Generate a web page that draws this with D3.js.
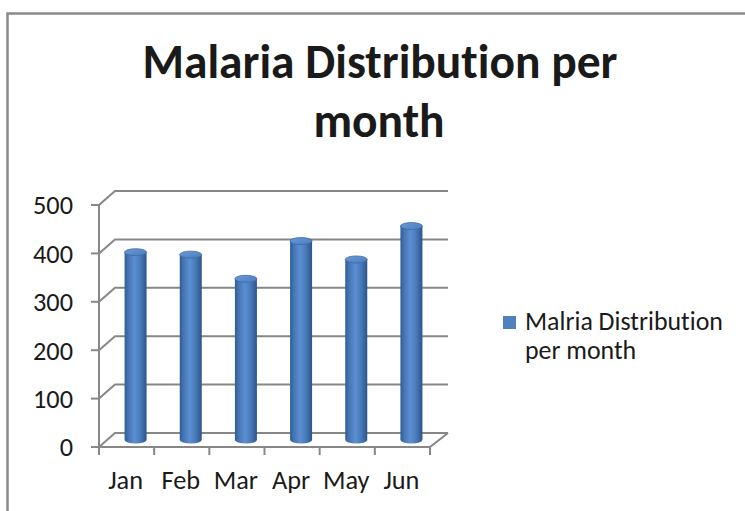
<!DOCTYPE html>
<html>
<head>
<meta charset="utf-8">
<script src="https://cdn.jsdelivr.net/npm/d3@7"></script>
<style>
  html, body { margin: 0; padding: 0; background: #fff; }
  svg { display: block; }
  text { font-family: Carlito, Calibri, Lato, "Open Sans", sans-serif; fill: #1a1a1a;
         font-variant-ligatures: none; font-feature-settings: "liga" 0; }
</style>
</head>
<body>
<svg id="chart" width="745" height="511"></svg>
<script>
// Monthly malaria case counts
const months = ["Jan", "Feb", "Mar", "Apr", "May", "Jun"];
const cases = [388, 383, 333, 411, 373, 442];
const yTicks = [0, 100, 200, 300, 400, 500];
const seriesName = "Malria Distribution per month";
const titleLines = ["Malaria Distribution per", "month"];

const svg = d3.select("#chart");
const W = 745, H = 511;

// Outer chart frame (runs off the right and bottom edges)
svg.append("rect")
  .attr("x", 7.5).attr("y", 13.5)
  .attr("width", W + 20).attr("height", H + 20)
  .attr("fill", "#fff")
  .attr("stroke", "#8a8a8a").attr("stroke-width", 2.5);

// Plot box with a shallow 3-D depth offset
const front = { left: 99, right: 430, bottom: 447, top: 205 };
const depth = { dx: 16, dy: -14 };

const x = d3.scaleBand().domain(months).range([front.left, front.right]);
const y = d3.scaleLinear().domain([0, 500]).range([front.bottom, front.top]);

const grid = svg.append("g")
  .attr("stroke", "#878787").attr("stroke-width", 2).attr("fill", "none");

// Back-wall gridlines with the diagonal connector to the front axis
yTicks.forEach(t => {
  const yf = y(t), yb = y(t) + depth.dy;
  grid.append("path")
    .attr("d", `M${front.left},${yf} L${front.left + depth.dx},${yb} L${front.right + depth.dx + 2},${yb}`);
  // small tick on the value axis
  grid.append("line")
    .attr("x1", front.left - 8).attr("x2", front.left)
    .attr("y1", yf).attr("y2", yf);
});

// Floor: front edge and right side edge
grid.append("path")
  .attr("d", `M${front.left},${y(0)} L${front.right},${y(0)} L${front.right + depth.dx + 2},${y(0) + depth.dy}`);

// Value axis line
grid.append("line")
  .attr("x1", front.left).attr("x2", front.left)
  .attr("y1", y(500)).attr("y2", y(0) + 8);

// Category ticks
const edges = months.map(m => x(m)).concat([front.right]);
edges.forEach(e => {
  grid.append("line")
    .attr("x1", e).attr("x2", e)
    .attr("y1", y(0)).attr("y2", y(0) + 8);
});

// Fit a text element to a target width by adjusting its font size
function fitWidth(sel, target) {
  const node = sel.node();
  const size = parseFloat(sel.attr("font-size"));
  const w = node.getComputedTextLength();
  sel.attr("font-size", (size * target / w).toFixed(2));
}

// Value tick labels
const yLabels = svg.append("g").selectAll("text")
  .data(yTicks).join("text")
  .attr("x", 73)
  .attr("y", d => y(d))
  .attr("dy", "0.36em")
  .attr("text-anchor", "end")
  .attr("font-size", 23)
  .text(d => d);
const probe = yLabels.filter(d => d === 500);
fitWidth(probe, 40);
const tickFont = probe.attr("font-size");
yLabels.attr("font-size", tickFont);

// Category labels
svg.append("g").selectAll("text")
  .data(months).join("text")
  .attr("x", d => x(d) + x.bandwidth() / 2 - 1)
  .attr("y", 489)
  .attr("text-anchor", "middle")
  .attr("font-size", tickFont)
  .text(d => d);

// Cylinder gradients
const defs = svg.append("defs");
const bodyGrad = defs.append("linearGradient").attr("id", "cylBody")
  .attr("x1", "0").attr("x2", "1").attr("y1", "0").attr("y2", "0");
[["0%", "#2f5d95"], ["18%", "#4676b4"], ["45%", "#5b8fd2"], ["70%", "#4a7cbc"], ["100%", "#2c5588"]]
  .forEach(([o, c]) => bodyGrad.append("stop").attr("offset", o).attr("stop-color", c));
const topGrad = defs.append("linearGradient").attr("id", "cylTop")
  .attr("x1", "0").attr("x2", "1").attr("y1", "0").attr("y2", "1");
[["0%", "#6a9bd8"], ["100%", "#4a7bbb"]]
  .forEach(([o, c]) => topGrad.append("stop").attr("offset", o).attr("stop-color", c));

// Bars sit halfway into the depth
const barW = 22, rx = barW / 2, ry = 3.5;
const bars = svg.append("g");
months.forEach((m, i) => {
  const cx = x(m) + x.bandwidth() / 2 + depth.dx / 2 + 1;
  const yBase = y(0) + depth.dy / 2;
  const yTop = y(cases[i]) + depth.dy / 2;
  const l = cx - rx, r = cx + rx;
  bars.append("path")
    .attr("d", `M${l},${yTop} L${l},${yBase} A${rx},${ry} 0 0 0 ${r},${yBase} L${r},${yTop} Z`)
    .attr("fill", "url(#cylBody)");
  bars.append("ellipse")
    .attr("cx", cx).attr("cy", yTop)
    .attr("rx", rx).attr("ry", ry)
    .attr("fill", "url(#cylTop)")
    .attr("stroke", "#3b69a6").attr("stroke-width", 0.8);
});

// Title
const t1 = svg.append("text")
  .attr("x", 380).attr("y", 78)
  .attr("text-anchor", "middle")
  .attr("font-weight", "bold").attr("font-size", 40)
  .text(titleLines[0]);
fitWidth(t1, 475);
const titleSize = t1.attr("font-size");
svg.append("text")
  .attr("x", 379).attr("y", 137)
  .attr("text-anchor", "middle")
  .attr("font-weight", "bold").attr("font-size", titleSize)
  .text(titleLines[1]);

// Legend
svg.append("rect")
  .attr("x", 503).attr("y", 316)
  .attr("width", 13).attr("height", 13)
  .attr("fill", "#4f81bd");
const words = seriesName.split(" ");
const lg1 = svg.append("text")
  .attr("x", 525).attr("y", 330)
  .attr("font-size", 22)
  .text(words.slice(0, 2).join(" "));
fitWidth(lg1, 198);
svg.append("text")
  .attr("x", 525).attr("y", 359)
  .attr("font-size", lg1.attr("font-size"))
  .text(words.slice(2).join(" "));
</script>
</body>
</html>
